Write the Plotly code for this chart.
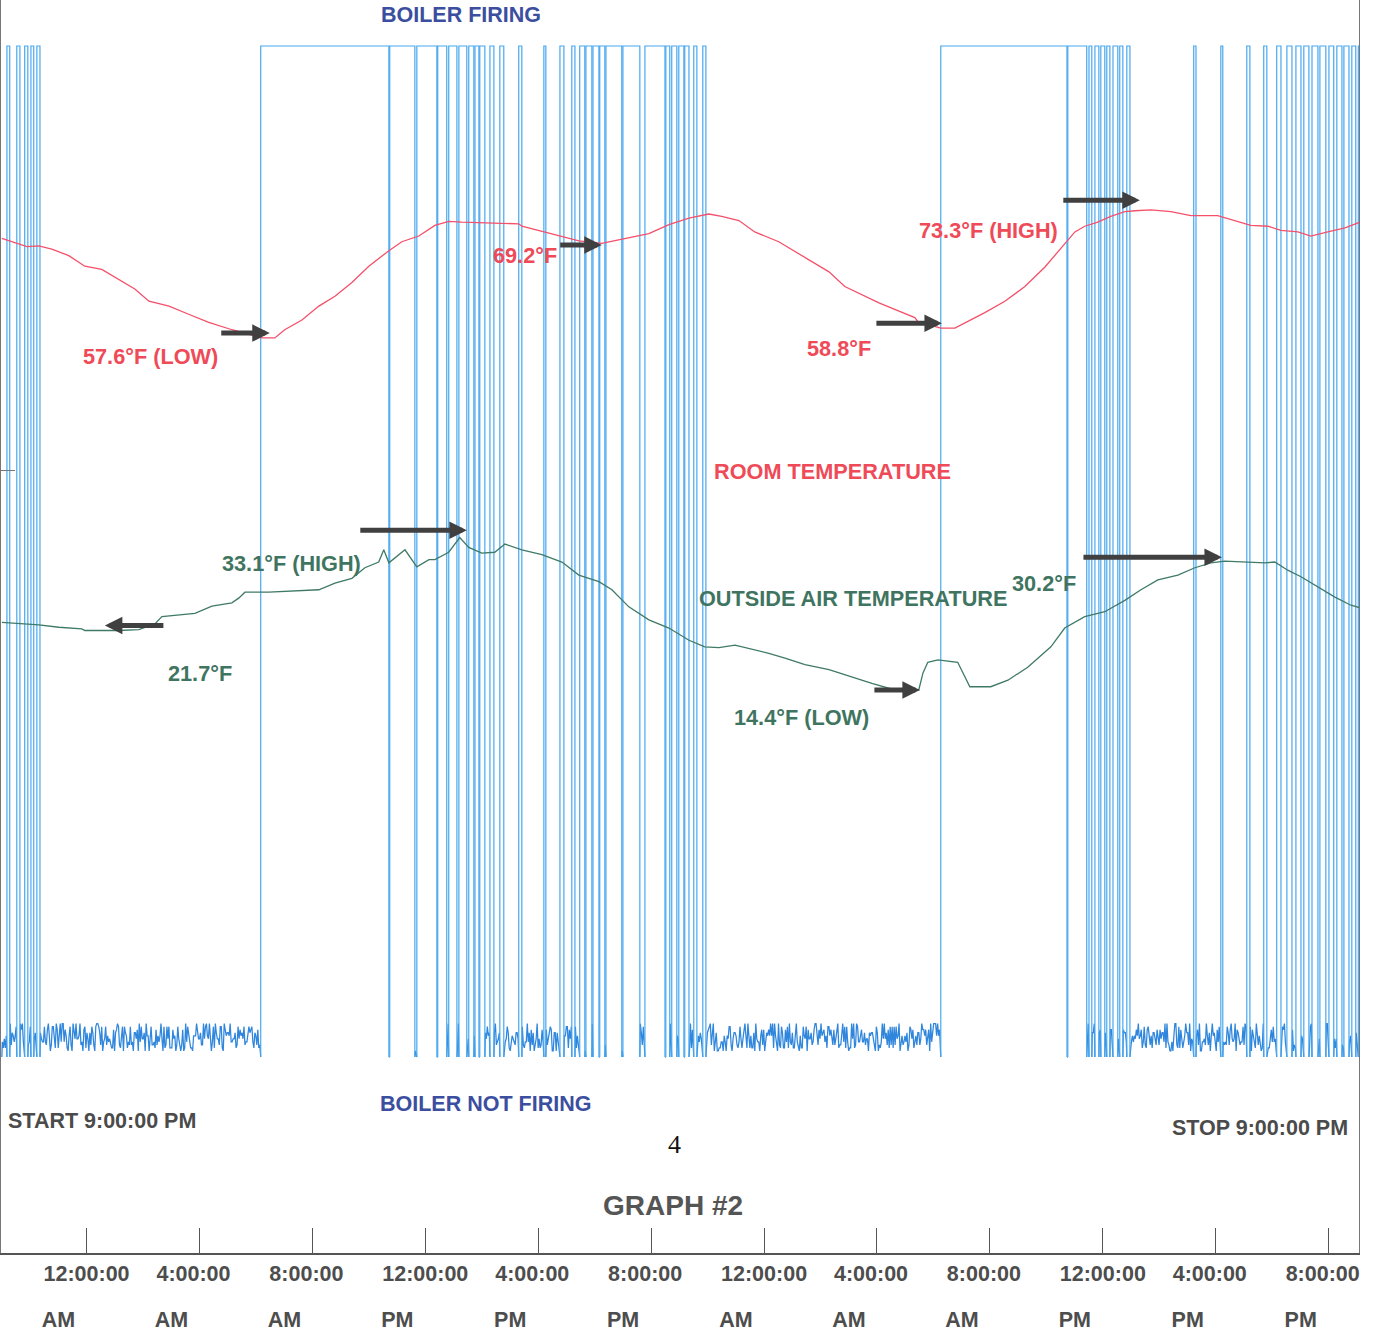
import plotly.graph_objects as go

# ---------------- data (hours after START 9:00 PM, 48 h record) ----------------
ROOM_H = [0.00, 0.35, 0.89, 1.31, 1.77, 2.37, 2.94, 3.54, 4.14, 4.71, 5.21, 5.92, 6.62, 7.33, 8.15,
          9.21, 9.67, 10.02, 10.63, 11.23, 11.80, 12.40, 13.00, 13.71, 14.17, 14.77, 15.34, 15.83,
          16.29, 18.31, 18.42, 19.23, 19.84, 20.44, 21.25, 22.21, 22.92, 23.63, 24.34, 25.04, 25.50,
          26.11, 26.67, 27.52, 28.09, 28.69, 29.30, 29.86, 30.46, 31.07, 31.63, 32.34, 32.45, 33.26,
          33.76, 34.22, 34.82, 35.53, 36.24, 36.95, 37.51, 38.01, 38.36, 38.82, 39.28, 39.78, 40.14,
          40.70, 41.41, 42.12, 43.07, 43.78, 44.24, 44.85, 45.31, 45.91, 46.37, 46.97, 47.58, 48.10]
ROOM_F = [69.8, 69.4, 68.8, 68.9, 68.5, 67.7, 66.4, 66.0, 64.8, 63.6, 62.1, 61.5, 60.5, 59.5, 58.6,
          57.6, 57.6, 58.6, 59.8, 61.5, 62.7, 64.4, 66.4, 68.3, 69.4, 70.1, 71.4, 71.9,
          71.8, 71.6, 71.3, 70.6, 70.0, 69.5, 69.2, 69.9, 70.4, 71.5, 72.3, 72.8, 72.5,
          72.0, 70.6, 69.4, 68.2, 66.9, 65.7, 63.9, 62.9, 61.9, 61.1, 60.1, 59.6, 58.8,
          58.8, 59.6, 60.7, 62.1, 63.9, 66.3, 68.5, 70.6, 71.3, 71.8, 72.5, 73.1, 73.2,
          73.3, 73.1, 72.6, 72.6, 71.9, 71.4, 71.3, 70.8, 70.6, 70.1, 70.6, 71.1, 71.8]

OUT_H = [0.00, 0.46, 1.31, 2.02, 2.83, 2.94, 4.14, 4.85, 5.42, 5.67, 6.38, 6.84, 7.44, 8.15, 8.40,
         8.61, 9.46, 11.23, 11.80, 12.40, 12.86, 13.35, 13.53, 13.71, 14.28, 14.70, 15.13, 15.34,
         15.83, 16.22, 16.54, 17.00, 17.46, 17.82, 18.42, 19.13, 19.84, 20.44, 21.15, 21.61, 22.21,
         22.92, 23.63, 24.34, 24.90, 25.40, 25.97, 26.57, 27.17, 27.74, 28.45, 29.30, 30.11, 30.82,
         31.63, 32.48, 32.63, 32.80, 33.16, 33.86, 34.29, 35.03, 35.64, 36.34, 37.16, 37.65, 38.36,
         39.07, 39.78, 40.35, 40.95, 41.66, 42.26, 42.83, 43.32, 44.03, 44.74, 45.09, 45.55, 46.02,
         46.62, 47.22, 47.79, 48.10]
OUT_F = [22.7, 22.6, 22.4, 22.1, 21.9, 21.7, 21.7, 21.8, 22.5, 23.4, 23.6, 23.8, 24.7, 25.1, 25.7,
         26.4, 26.4, 26.7, 27.5, 28.1, 29.4, 30.1, 31.6, 30.0, 31.6, 29.5, 30.4, 30.4,
         31.3, 33.1, 31.9, 31.2, 31.3, 32.3, 31.6, 31.0, 30.1, 28.5, 27.7, 26.7, 24.6,
         23.0, 22.0, 20.5, 19.7, 19.6, 19.9, 19.4, 18.9, 18.3, 17.5, 16.9, 16.0, 15.2,
         14.4, 14.4, 16.5, 17.8, 18.1, 17.8, 14.8, 14.8, 15.6, 17.2, 19.7, 22.0, 23.4,
         24.0, 25.4, 26.7, 27.9, 28.5, 29.4, 30.0, 30.2, 30.1, 30.0, 30.1, 29.1, 28.3,
         27.0, 25.8, 24.8, 24.5]

# boiler firing periods (start, end) in hours
FIRE_START = [0.18, 0.53, 0.81, 1.03, 1.24,
              9.17, 13.74, 14.70, 15.44, 15.83, 16.19, 16.54, 16.76, 16.93, 17.29, 17.64, 18.31,
              19.20, 19.77, 20.19, 20.47, 20.69, 20.94, 21.18, 21.40, 22.00, 22.78, 23.52, 23.73,
              23.98, 24.19, 24.51, 24.83,
              33.26, 37.76, 38.51, 38.72, 38.93, 39.14, 39.36, 39.60, 39.85, 42.22, 43.18, 44.10,
              44.70, 45.16, 45.52, 45.84, 46.12, 46.41, 46.69, 47.01, 47.29, 47.54, 47.82, 48.05]
FIRE_END = [0.28, 0.64, 0.92, 1.13, 1.35,
            13.71, 14.63, 15.41, 15.76, 16.12, 16.47, 16.72, 16.90, 17.11, 17.43, 17.78, 18.42,
            19.27, 19.91, 20.30, 20.65, 20.90, 21.15, 21.36, 21.96, 22.60, 23.49, 23.66, 23.91,
            24.16, 24.34, 24.62, 24.94,
            37.73, 38.43, 38.61, 38.86, 39.07, 39.25, 39.53, 39.71, 39.96, 42.30, 43.25, 44.21,
            44.81, 45.31, 45.70, 46.02, 46.30, 46.62, 46.90, 47.18, 47.47, 47.72, 47.96, 48.14]
RECORD_END = 48.14
IDLE_SAMPLE_H = 0.035
# idle (not firing) signal readings, estimated, in steps of 0.3 % of full scale above a 0.6 % floor
IDLE_READINGS = (
    "3141592653589793238462643383279502884197169399375105820974944592307816406286"
    "2089986280348253421170679821480865132823066470938446095505822317253594081284"
    "8111745028410270193852110555964462294895493038196442881097566593344612847564"
    "8233786783165271201909145648566923460348610454326648213393607260249141273724"
    "5870066063155881748815209209628292540917153643678925903600113305305488204665"
    "2138414695194151160943305727036575959195309218611738193261179310511854807446"
    "2379962749567351885752724891227938183011949129833673362440656643086021394946"
    "2718281828459045235360287471352662497757247093699959574966967627724076630353"
    "5475945713821785251664274274663919320030599218174135966290435729003342952605"
    "9563073813232862794349076323382988075319525101901157383418793070215408914993"
    "4142135623730950488016887242096980785696718753769480731766797379907324784621"
    "0703885038753432764157273501384623091229702492483605585073721264412149709993"
    "5833068257386716475329584637194826357148692736584917236485917364857219384756"
)

TICK_H = [3, 7, 11, 15, 19, 23, 27, 31, 35, 39, 43, 47]
TICK_TIME = ["12:00:00", "4:00:00", "8:00:00", "12:00:00", "4:00:00", "8:00:00",
             "12:00:00", "4:00:00", "8:00:00", "12:00:00", "4:00:00", "8:00:00"]
TICK_AMPM = ["AM", "AM", "AM", "PM", "PM", "PM", "AM", "AM", "AM", "PM", "PM", "PM"]

# ---------------- build boiler signal ----------------
fx, fy = [], []   # firing edges / tops
ix, iy = [], []   # idle readings
idx = 0


def add_idle(a, b):
    global idx
    ix.append(a); iy.append(0.0)
    n = int((b - a) / IDLE_SAMPLE_H)
    for k in range(n):
        ix.append(a + IDLE_SAMPLE_H * (k + 0.5))
        iy.append(0.006 + int(IDLE_READINGS[idx % len(IDLE_READINGS)]) * 0.003)
        idx += 1
    ix.append(b); iy.append(0.0)
    ix.append(None); iy.append(None)


t_prev = 0.0
for s, e in zip(FIRE_START, FIRE_END):
    add_idle(t_prev, s)
    fx += [s, s, e, e, None]
    fy += [0.0, 1.0, 1.0, 0.0, None]
    t_prev = e
if t_prev < RECORD_END:
    add_idle(t_prev, RECORD_END)

# ---------------- figure ----------------
W, H = 1376, 1331
ML, MR, MT, MB = 1, 17, 0, 78
PW, PH = W - ML - MR, H - MT - MB

BLUE = "#48a8ef"
BLUE_IDLE = "#2f86dc"
RED = "#f4506a"
RED_TXT = "#ef4a57"
GREEN = "#3f7a66"
GREEN_TXT = "#3f7560"
NAVY = "#3b4ea0"
GREY = "#4b4b4b"
FONT = "Liberation Sans, Arial, sans-serif"

fig = go.Figure()
fig.add_trace(go.Scatter(x=ix, y=iy, mode="lines", line=dict(color=BLUE_IDLE, width=1.25),
                         hoverinfo="skip", showlegend=False))
fig.add_trace(go.Scatter(x=fx, y=fy, mode="lines", line=dict(color=BLUE, width=1.2),
                         hoverinfo="skip", showlegend=False))
fig.add_trace(go.Scatter(x=ROOM_H, y=ROOM_F, yaxis="y2", mode="lines",
                         line=dict(color=RED, width=1.3), showlegend=False))
fig.add_trace(go.Scatter(x=OUT_H, y=OUT_F, yaxis="y2", mode="lines",
                         line=dict(color=GREEN, width=1.3), showlegend=False))
# invisible trace to bring in xaxis2 (AM/PM row)
fig.add_trace(go.Scatter(x=[TICK_H[0]], y=[0], xaxis="x2", mode="markers",
                         marker=dict(opacity=0), hoverinfo="skip", showlegend=False))


def px(x):
    return (x - ML) / PW


def py(y):
    return 1 - (y - MT) / PH


ann = []


def text(t, x, y, color, size=21.5, xanchor="center", family=FONT, bold=True):
    ann.append(dict(text=f"<b>{t}</b>" if bold else t, x=px(x), y=py(y), xref="paper", yref="paper",
                    xanchor=xanchor, yanchor="middle", showarrow=False,
                    font=dict(family=family, size=size, color=color)))


text("BOILER FIRING", 461, 15, NAVY)
text("BOILER NOT FIRING", 485, 1104, NAVY)
text("START 9:00:00 PM", 6, 1121, GREY, xanchor="left")
text("STOP 9:00:00 PM", 1350, 1128, GREY, xanchor="right")
text("4", 674, 1144, "#111111", size=26, family="Liberation Serif, Times New Roman, serif", bold=False)
text("GRAPH #2", 673, 1205, "#555555", size=28)
text("57.6°F (LOW)", 150, 357, RED_TXT, size=21.7)
text("69.2°F", 525, 255, RED_TXT, size=21.7)
text("58.8°F", 839, 348, RED_TXT, size=21.7)
text("73.3°F (HIGH)", 988, 231, RED_TXT, size=21.7)
text("ROOM TEMPERATURE", 832, 471, RED_TXT, size=21.7)
text("33.1°F (HIGH)", 291, 563, GREEN_TXT, size=21.7)
text("21.7°F", 200, 673, GREEN_TXT, size=21.7)
text("OUTSIDE AIR TEMPERATURE", 853, 598, GREEN_TXT, size=21.7)
text("30.2°F", 1044, 583, GREEN_TXT, size=21.7)
text("14.4°F (LOW)", 801, 717, GREEN_TXT, size=21.7)

# arrows: tip (hours, °F), tail offset in px
for hx, tf, dx in [(9.49, 58.2, -50), (21.25, 69.0, -43), (33.30, 59.4, -67), (40.31, 74.5, -78),
                   (16.47, 34.0, -108), (3.65, 22.3, 60), (32.52, 14.4, -47), (43.22, 30.7, -140)]:
    ann.append(dict(x=hx, y=tf, xref="x", yref="y2", ax=dx, ay=0, text="", showarrow=True,
                    arrowhead=2, arrowsize=0.7, arrowwidth=5, arrowcolor="#404040", standoff=0))

XR = [-0.03, PW / 28.23 - 0.03]

# tick labels are left-aligned in the reference: pad short ones with an invisible digit
PAD = "<span style='color:rgba(0,0,0,0)'>0</span>"
time_text = [f"<b>{t}{PAD if len(t) < 8 else ''}</b>" for t in TICK_TIME]

fig.update_layout(
    width=W, height=H, margin=dict(l=ML, r=MR, t=MT, b=MB, autoexpand=False),
    paper_bgcolor="white", plot_bgcolor="white", showlegend=False,
    annotations=ann,
    xaxis=dict(range=XR, tickvals=TICK_H, ticktext=time_text, automargin=False,
               ticks="inside", ticklen=25, tickcolor="#555555", tickwidth=1,
               showline=True, linecolor="#555555", linewidth=1.5, showgrid=False, zeroline=False,
               tickfont=dict(family=FONT, size=21.5, color="#4d4d4d"), ticklabelstandoff=0),
    xaxis2=dict(range=XR, overlaying="x", anchor="y", side="bottom", tickvals=TICK_H,
                ticktext=[f"<b>{t}</b>" for t in TICK_AMPM], ticks="", showline=False,
                showgrid=False, zeroline=False, ticklabelstandoff=51, ticklabelshift=-28,
                automargin=False, tickfont=dict(family=FONT, size=21.5, color="#4d4d4d")),
    yaxis=dict(range=[-(1253 - 1057) / 1011, 1 + 46 / 1011], showline=True, linecolor="#777777",
               mirror=True, showgrid=False, zeroline=False, showticklabels=False, automargin=False,
               tickvals=[0.58], ticks="inside", ticklen=14, tickcolor="#777777"),
    yaxis2=dict(range=[-54.68, 99.06], overlaying="y", visible=False),
)

fig.write_html("out.html", config={"displayModeBar": False},
               post_script="document.body.style.margin='0';")
